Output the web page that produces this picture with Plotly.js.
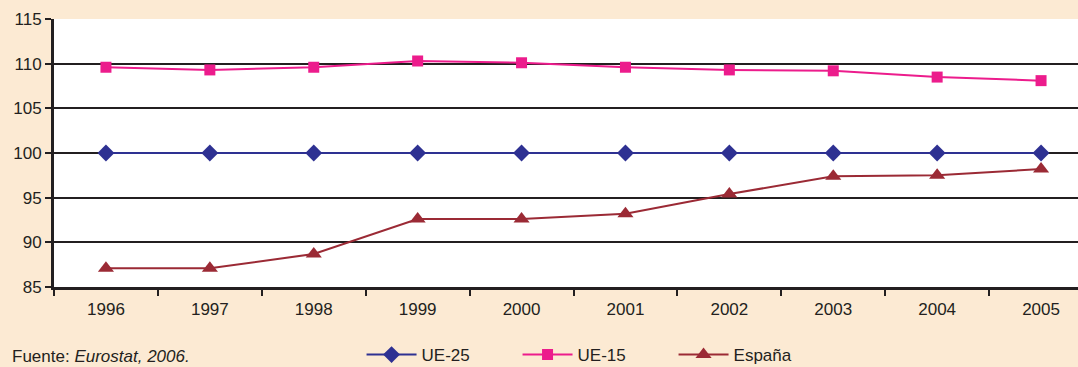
<!DOCTYPE html>
<html><head><meta charset="utf-8">
<script src="https://cdn.plot.ly/plotly-3.0.1.min.js"></script>
<style>html,body{margin:0;padding:0;overflow:hidden;background:#FCEAD3;}</style>
</head><body><div id="chart"></div>
<script>
const years = ["1996","1997","1998","1999","2000","2001","2002","2003","2004","2005"];
const ue25 = [100,100,100,100,100,100,100,100,100,100];
const ue15 = [109.6,109.3,109.6,110.3,110.1,109.6,109.3,109.2,108.5,108.1];
const espana = [87.1,87.1,88.7,92.6,92.6,93.2,95.4,97.4,97.5,98.2];
const yTicks = [85,90,95,100,105,110,115];

const font = {family:"Liberation Sans, Arial, sans-serif", size:17, color:"#231F20"};
const traces = [
  {x:years,y:ue25,name:"UE-25",mode:"lines+markers",line:{color:"#2E3192",width:2},marker:{symbol:"diamond",size:13,color:"#2E3192"}},
  {x:years,y:ue15,name:"UE-15",mode:"lines+markers",line:{color:"#EC1C8C",width:2},marker:{symbol:"square",size:11,color:"#EC1C8C"}},
  {x:years,y:espana,name:"España",mode:"lines+markers",line:{color:"#9B2A35",width:2},marker:{symbol:"triangle-up",size:14,color:"#9B2A35"}}
];
const layout = {
  width:1100,height:367,
  paper_bgcolor:"#FCEAD3",plot_bgcolor:"#FFFFFF",
  margin:{l:54,r:7,t:19,b:80,autoexpand:false},
  font:font,
  showlegend:true,
  legend:{orientation:"h",x:0.296,xanchor:"left",y:-0.254,yanchor:"middle",entrywidth:91,font:font,bgcolor:"rgba(0,0,0,0)",itemwidth:50},
  xaxis:{type:"category",range:[-0.5,9.5],showline:true,linecolor:"#231F20",linewidth:3,ticks:"outside",tickson:"boundaries",ticklen:6,tickwidth:2,tickcolor:"#231F20",ticklabelstandoff:5,showgrid:false,tickfont:font,fixedrange:true,automargin:false},
  yaxis:{range:[85,115],tickvals:yTicks,ticktext:yTicks.map(String),showline:true,linecolor:"#231F20",linewidth:3,ticks:"outside",ticklen:6,tickwidth:2,tickcolor:"#231F20",showgrid:true,gridcolor:"#231F20",gridwidth:2,zeroline:false,tickfont:font,fixedrange:true,automargin:false},
  annotations:[{xref:"paper",yref:"paper",x:-0.042,y:-0.26,xanchor:"left",yanchor:"middle",showarrow:false,text:"Fuente: <i>Eurostat, 2006.</i>",font:font}]
};
Plotly.newPlot("chart",traces,layout,{displayModeBar:false,staticPlot:true});
</script></body></html>
